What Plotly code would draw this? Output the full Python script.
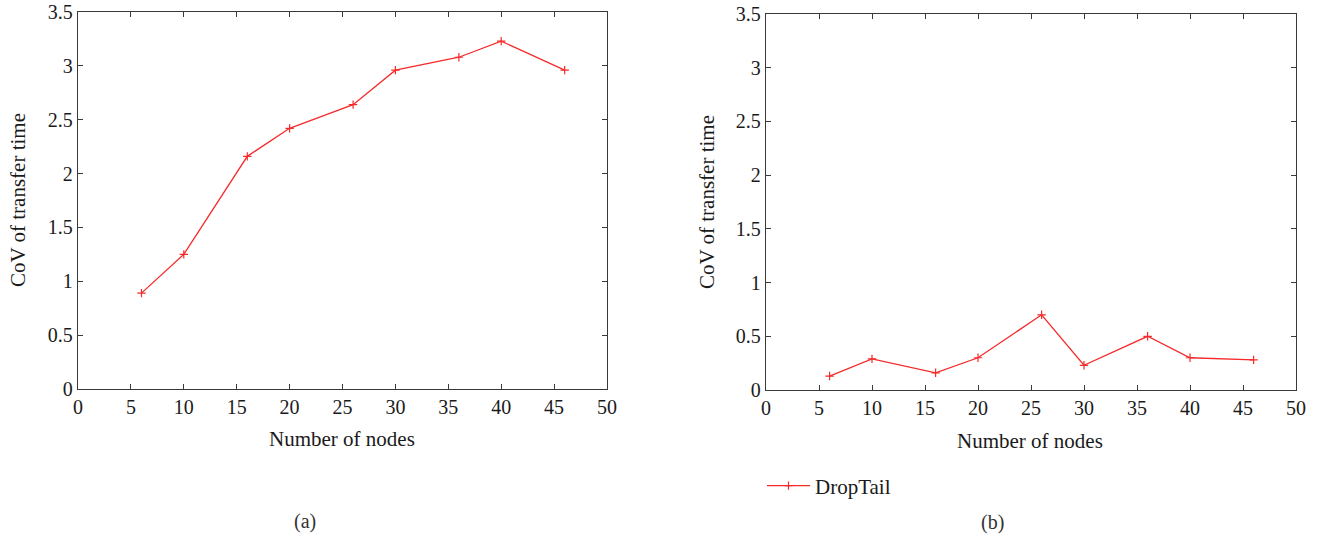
import plotly.graph_objects as go

# Number of nodes in each scenario
nodes = [6, 10, 16, 20, 26, 30, 36, 40, 46]

# CoV of transfer time, panel (a)
cov_a = [0.89, 1.25, 2.16, 2.42, 2.64, 2.96, 3.08, 3.23, 2.96]
# CoV of transfer time, panel (b)
cov_b = [0.13, 0.29, 0.16, 0.30, 0.70, 0.23, 0.50, 0.30, 0.28]

x_ticks = [0, 5, 10, 15, 20, 25, 30, 35, 40, 45, 50]
y_ticks = [0, 0.5, 1, 1.5, 2, 2.5, 3, 3.5]
y_ticklabels = ["0", "0.5", "1", "1.5", "2", "2.5", "3", "3.5"]

x_title = "Number of nodes"
y_title = "CoV of transfer time"
series_name = "DropTail"

W, H = 1317, 539
RED = "#f52a2a"
AXIS = "#3a3a3a"
TEXT = "#1a1a1a"
FONT = "Liberation Serif"

fig = go.Figure()

marker = dict(symbol="cross-thin", size=6, line=dict(width=1.2, color=RED), color=RED)

fig.add_trace(go.Scatter(x=nodes, y=cov_a, mode="lines+markers", name=series_name,
                         line=dict(color=RED, width=1.3), marker=marker,
                         xaxis="x", yaxis="y", showlegend=False))
fig.add_trace(go.Scatter(x=nodes, y=cov_b, mode="lines+markers", name=series_name,
                         line=dict(color=RED, width=1.3), marker=marker,
                         xaxis="x2", yaxis="y2", showlegend=True))


def px_x(p):
    return p / W


def px_y(p):
    return 1 - p / H


axis_common = dict(showline=True, linecolor=AXIS, linewidth=1.3, mirror="ticks",
                   ticks="inside", ticklen=5, tickwidth=1.3, tickcolor=AXIS,
                   showgrid=False, zeroline=False, automargin=False,
                   tickfont=dict(family=FONT, size=20, color=TEXT))

xa = dict(axis_common, range=[0, 50], tickvals=x_ticks)
ya = dict(axis_common, range=[0, 3.5], tickvals=y_ticks, ticktext=y_ticklabels)

title_font = dict(family=FONT, size=21, color=TEXT)


def label(text, x, y, angle=0, size=None, color=TEXT):
    f = dict(title_font) if size is None else dict(family=FONT, size=size, color=color)
    return dict(text=text, x=px_x(x), y=px_y(y), xref="paper", yref="paper",
                showarrow=False, textangle=angle, font=f,
                xanchor="center", yanchor="middle")


fig.update_layout(
    template="none",
    width=W, height=H,
    margin=dict(l=0, r=0, t=0, b=0),
    paper_bgcolor="white", plot_bgcolor="white",
    xaxis=dict(xa, domain=[px_x(78), px_x(607)], anchor="y"),
    yaxis=dict(ya, domain=[px_y(389), px_y(12)], anchor="x"),
    xaxis2=dict(xa, domain=[px_x(766), px_x(1296)], anchor="y2"),
    yaxis2=dict(ya, domain=[px_y(390), px_y(14)], anchor="x2"),
    legend=dict(x=px_x(762), y=px_y(486), xanchor="left", yanchor="middle",
                font=dict(family=FONT, size=21, color=TEXT),
                bgcolor="rgba(0,0,0,0)", itemwidth=43),
    annotations=[
        label(y_title, 18, 200, angle=-90),
        label(y_title, 707, 202, angle=-90),
        label(x_title, 342, 439),
        label(x_title, 1030, 441),
        label("(a)", 305, 521, size=20, color="#333333"),
        label("(b)", 992, 522, size=20, color="#333333"),
    ],
)

fig.write_html("out.html")
